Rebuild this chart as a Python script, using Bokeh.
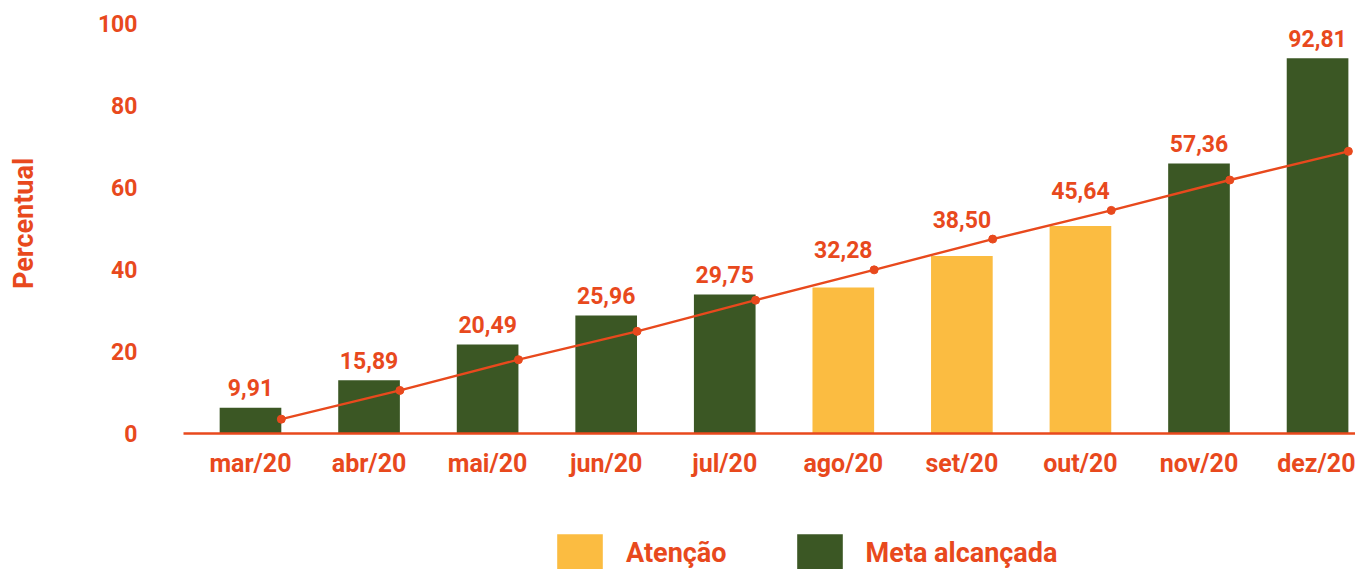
from bokeh.plotting import figure
from bokeh.layouts import column
from bokeh.models import (ColumnDataSource, Range1d, FixedTicker, Legend, LegendItem)
from bokeh.transform import dodge
from bokeh.core.properties import value
from bokeh.embed import file_html
from bokeh.resources import INLINE

# ---------------- data ----------------
categories = ["mar/20", "abr/20", "mai/20", "jun/20", "jul/20",
              "ago/20", "set/20", "out/20", "nov/20", "dez/20"]
bar_values = [6.3, 13.0, 21.7, 28.8, 33.9, 35.6, 43.3, 50.6, 65.8, 91.5]
line_values = [3.5, 10.5, 18.0, 24.9, 32.5, 39.9, 47.4, 54.4, 61.8, 68.8]
label_texts = ["9,91", "15,89", "20,49", "25,96", "29,75",
               "32,28", "38,50", "45,64", "57,36", "92,81"]
status = ["Meta alcançada", "Meta alcançada", "Meta alcançada", "Meta alcançada",
          "Meta alcançada", "Atenção", "Atenção", "Atenção",
          "Meta alcançada", "Meta alcançada"]
y_ticks = [0, 20, 40, 60, 80, 100]
legend_order = ["Atenção", "Meta alcançada"]

# ---------------- style ----------------
ORANGE = "#E8491D"
GREEN = "#3B5724"
YELLOW = "#FBBC41"
colors = {"Atenção": YELLOW, "Meta alcançada": GREEN}
FONT = "Roboto"

xs = list(range(len(categories)))

# ---------------- chart ----------------
p = figure(width=1355, height=500, output_backend="svg", toolbar_location=None,
           x_range=Range1d(-0.565, 9.32), y_range=Range1d(0, 102.4),
           min_border_left=183, min_border_right=0, min_border_top=13,
           min_border_bottom=67)
p.outline_line_color = None
p.background_fill_color = "white"
p.border_fill_color = "white"
p.xgrid.visible = False
p.ygrid.visible = False

sources = {}
for st in legend_order:
    idx = [i for i, s in enumerate(status) if s == st]
    sources[st] = ColumnDataSource(dict(x=[xs[i] for i in idx],
                                        top=[bar_values[i] for i in idx]))
    p.vbar(x="x", top="top", bottom=0, width=0.52, source=sources[st],
           fill_color=colors[st], line_color=None)

# target line, points at right edge of each bar
line_src = ColumnDataSource(dict(x=xs, y=line_values))
p.line(x=dodge("x", 0.26), y="y", source=line_src, line_color=ORANGE, line_width=2.4)
p.scatter(x=dodge("x", 0.26), y="y", source=line_src, size=8,
          fill_color=ORANGE, line_color=ORANGE)

# value labels above the highest of bar/line
lab_src = ColumnDataSource(dict(x=xs, y=[max(b, l) for b, l in zip(bar_values, line_values)],
                                t=label_texts))
p.text(x="x", y="y", text="t", source=lab_src, text_align="center",
       text_baseline="alphabetic", y_offset=-20, text_color=ORANGE,
       text_font=value(FONT), text_font_size="23px", text_font_style="bold")

xa = p.xaxis[0]
xa.ticker = FixedTicker(ticks=xs)
xa.major_label_overrides = {i: c for i, c in zip(xs, categories)}
xa.axis_line_color = ORANGE
xa.axis_line_width = 2.4
xa.major_tick_line_color = None
xa.minor_tick_line_color = None
xa.major_label_standoff = 9
xa.major_label_text_color = ORANGE
xa.major_label_text_font = FONT
xa.major_label_text_font_size = "25px"
xa.major_label_text_font_style = "bold"

ya = p.yaxis[0]
ya.ticker = FixedTicker(ticks=y_ticks)
ya.axis_line_color = None
ya.major_tick_line_color = None
ya.minor_tick_line_color = None
ya.major_label_standoff = 40
ya.major_label_text_color = ORANGE
ya.major_label_text_font = FONT
ya.major_label_text_font_size = "23px"
ya.major_label_text_font_style = "bold"
ya.axis_label = "Percentual"
ya.axis_label_standoff = 55
ya.axis_label_text_color = ORANGE
ya.axis_label_text_font = FONT
ya.axis_label_text_font_size = "27px"
ya.axis_label_text_font_style = "bold"

# ---------------- legend strip below the chart ----------------
# same bar sources; the strip's ranges keep the bars themselves out of view
lg = figure(width=1355, height=69, output_backend="svg", toolbar_location=None,
            x_range=Range1d(-100, -99), y_range=Range1d(0, 1),
            x_axis_type=None, y_axis_type=None,
            min_border_left=0, min_border_right=0, min_border_top=0, min_border_bottom=0)
lg.outline_line_color = None
lg.xgrid.visible = False
lg.ygrid.visible = False
lg.background_fill_color = "white"
lg.border_fill_color = "white"

legend_renderers = {}
for st in legend_order:
    legend_renderers[st] = lg.vbar(x="x", top="top", bottom=0, width=0.52,
                                   source=sources[st],
                                   fill_color=colors[st], line_color=None)

legend = Legend(items=[LegendItem(label=st, renderers=[legend_renderers[st]]) for st in legend_order],
                orientation="horizontal", location=(368, -7),
                glyph_width=57, glyph_height=47, label_standoff=18, spacing=64,
                padding=0, margin=0, border_line_color=None, background_fill_alpha=0,
                label_text_color=ORANGE, label_text_font=FONT,
                label_text_font_size="27px", label_text_font_style="bold")
lg.add_layout(legend, "center")

layout = column(p, lg, spacing=0)
open("out.html", "w").write(file_html(layout, INLINE))
